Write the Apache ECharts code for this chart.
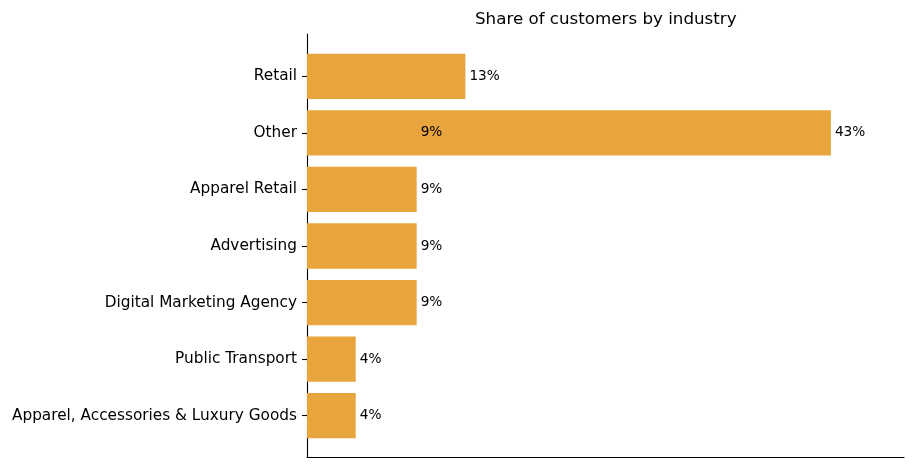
<!DOCTYPE html>
<html>
<head>
<meta charset="utf-8">
<script src="https://cdn.jsdelivr.net/npm/echarts@6/dist/echarts.min.js"></script>
<style>html,body{margin:0;padding:0;background:#fff}#c{width:915px;height:468px}</style>
</head>
<body>
<div id="c"></div>
<script>
const categories = ["Retail", "Other", "Apparel Retail", "Advertising", "Digital Marketing Agency", "Public Transport", "Apparel, Accessories & Luxury Goods"];
const shares = [13, 43, 9, 9, 9, 4, 4];
// stray label seen in the reference inside the "Other" bar
const strayLabels = [null, 9, null, null, null, null, null];
const xMax = 49;

const font = 'DejaVu Sans';
const chart = echarts.init(document.getElementById('c'), null, {renderer: 'canvas'});
chart.setOption({
  animation: false,
  title: {
    text: 'Share of customers by industry',
    left: 470, top: 6,
    textStyle: {fontFamily: font, fontSize: 16.7, fontWeight: 'normal', color: '#000'}
  },
  grid: [
    {left: 307, right: 11, top: 34, bottom: 11},
    {left: 307, right: 11, top: 48, bottom: 24}
  ],
  xAxis: [
    {gridIndex: 0, type: 'value', min: 0, max: xMax,
     axisLine: {show: true, lineStyle: {color: '#000', width: 1.1}},
     axisTick: {show: false}, axisLabel: {show: false}, splitLine: {show: false}},
    {gridIndex: 1, type: 'value', min: 0, max: xMax,
     axisLine: {show: false}, axisTick: {show: false}, axisLabel: {show: false}, splitLine: {show: false}}
  ],
  yAxis: [
    {gridIndex: 0, type: 'value', min: 0, max: 1,
     axisLine: {show: true, lineStyle: {color: '#000', width: 1.1}},
     axisTick: {show: false}, axisLabel: {show: false}, splitLine: {show: false}},
    {gridIndex: 1, type: 'category', data: categories, inverse: true,
     axisLine: {show: false},
     axisTick: {show: true, alignWithLabel: true, length: 5, lineStyle: {color: '#000', width: 1.1}},
     axisLabel: {fontFamily: font, fontSize: 15.3, color: '#000', margin: 10},
     splitLine: {show: false}}
  ],
  series: [
    {type: 'bar', xAxisIndex: 1, yAxisIndex: 1, data: shares, barWidth: '80%', barGap: '-100%',
     itemStyle: {color: '#e8a43d'},
     label: {show: true, position: 'right', distance: 4, formatter: '{c}%',
             fontFamily: font, fontSize: 13.7, color: '#000'}},
    {type: 'bar', xAxisIndex: 1, yAxisIndex: 1, data: strayLabels, barWidth: '80%', barGap: '-100%',
     itemStyle: {color: 'rgba(0,0,0,0)'}, silent: true,
     label: {show: true, position: 'right', distance: 4, formatter: '{c}%',
             fontFamily: font, fontSize: 13.7, color: '#000'}}
  ]
});
</script>
</body>
</html>
